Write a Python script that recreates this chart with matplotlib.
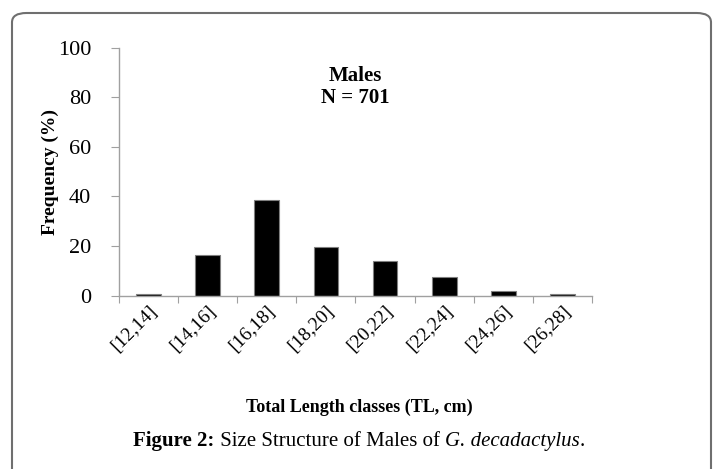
import numpy as np
import matplotlib.pyplot as plt
from matplotlib.patches import FancyBboxPatch

plt.rcParams['font.family'] = ['Liberation Serif', 'DejaVu Serif']

# clases de talla y frecuencias (%)
clases = ['[12,14]', '[14,16]', '[16,18]', '[18,20]', '[20,22]', '[22,24]', '[24,26]', '[26,28]']
frecuencia = [0.8, 16.3, 38.6, 19.7, 14.0, 7.4, 2.0, 0.6]

fig = plt.figure(figsize=(7.18, 4.69), dpi=100)
ax = fig.add_axes([0.1657, 0.3695, 0.6588, 0.5292])

x = np.arange(len(clases))
ax.bar(x, frecuencia, width=0.42, color='black', edgecolor='#7f7f7f', linewidth=0.8)

ax.set_xlim(-0.5, len(clases) - 0.5)
ax.set_ylim(0, 100)
ax.set_yticks([0, 20, 40, 60, 80, 100])
ax.set_xticks(np.arange(-0.5, len(clases), 1.0))
ax.set_xticklabels([])
ax.set_xticks(x, minor=True)
ax.set_xticklabels(clases, minor=True, rotation=45, ha='right', va='top',
                   rotation_mode='anchor', fontsize=14)
ax.tick_params(axis='x', which='minor', length=0, pad=5)
ax.tick_params(axis='x', which='major', length=5, color='#a0a0a0', direction='out')
ax.tick_params(axis='y', length=6, color='#a0a0a0', labelsize=16, pad=14)

for s in ['top', 'right']:
    ax.spines[s].set_visible(False)
for s in ['left', 'bottom']:
    ax.spines[s].set_color('#a0a0a0')
    ax.spines[s].set_linewidth(1.0)

ax.set_ylabel('Frequency (%)', fontsize=14, fontweight='bold')
ax.yaxis.set_label_coords(-0.127, 0.5)
ax.text(0.5, 0.885, 'Males', transform=ax.transAxes, ha='center', va='center',
        fontsize=15, fontweight='bold')
ax.text(0.5, 0.795, 'N = 701', transform=ax.transAxes, ha='center', va='center',
        fontsize=15, fontweight='bold')

fig.text(0.5, 1 - 407 / 469, 'Total Length classes (TL, cm)', ha='center', va='center',
         fontsize=13, fontweight='bold')

# pie de figura en tres partes
partes = [('Figure 2:', 'bold', 'normal'),
          (' Size Structure of Males of ', 'normal', 'normal'),
          ('G. decadactylus', 'normal', 'italic'),
          ('.', 'normal', 'normal')]
y_pie = 1 - 441 / 469
renderer = fig.canvas.get_renderer()
objs = []
for txt, peso, estilo in partes:
    t = fig.text(0, y_pie, txt, ha='left', va='center', fontsize=15,
                 fontweight=peso, fontstyle=estilo)
    objs.append(t)
anchos = [t.get_window_extent(renderer).width / fig.bbox.width for t in objs]
x0 = 0.5 - sum(anchos) / 2
for t, w in zip(objs, anchos):
    t.set_x(x0)
    x0 += w

borde = FancyBboxPatch((12 / 718, -0.05), 699 / 718, 1.05 - 13 / 469,
                       boxstyle='round,pad=0,rounding_size=0.02',
                       transform=fig.transFigure, fill=False,
                       edgecolor='#6f6f6f', linewidth=1.5)
fig.patches.append(borde)

fig.savefig('out.png', dpi=100)
